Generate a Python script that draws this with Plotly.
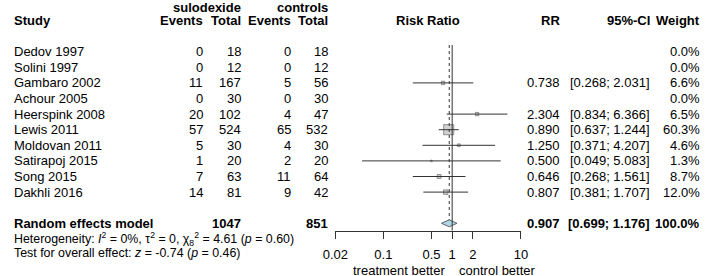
import plotly.graph_objects as go
import math

# ---------------- data ----------------
studies = ["Dedov 1997", "Solini 1997", "Gambaro 2002", "Achour 2005", "Heerspink 2008",
           "Lewis 2011", "Moldovan 2011", "Satirapoj 2015", "Song 2015", "Dakhli 2016"]
ev_sulo = [0, 0, 11, 0, 20, 57, 5, 1, 7, 14]
n_sulo = [18, 12, 167, 30, 102, 524, 30, 20, 63, 81]
ev_ctrl = [0, 0, 5, 0, 4, 65, 4, 2, 11, 9]
n_ctrl = [18, 12, 56, 30, 47, 532, 30, 20, 64, 42]
rr = [None, None, 0.738, None, 2.304, 0.890, 1.250, 0.500, 0.646, 0.807]
ci_low = [None, None, 0.268, None, 0.834, 0.637, 0.371, 0.049, 0.268, 0.381]
ci_high = [None, None, 2.031, None, 6.366, 1.244, 4.207, 5.083, 1.561, 1.707]
weight = [0.0, 0.0, 6.6, 0.0, 6.5, 60.3, 4.6, 1.3, 8.7, 12.0]

pooled_label = "Random effects model"
pooled_rr = 0.907
pooled_low = 0.699
pooled_high = 1.176
pooled_weight = 100.0

het_line = ("Heterogeneity: <i>I</i><sup>2</sup> = 0%, τ<sup>2</sup> = 0, "
            "χ<sub>8</sub><sup>2</sup> = 4.61 (<i>p</i> = 0.60)")
test_line = "Test for overall effect: <i>z</i> = -0.74 (<i>p</i> = 0.46)"

tick_vals = [0.02, 0.1, 0.5, 1, 2, 10]
tick_text = ["0.02", "0.1", "0.5", "1", "2", "10"]
x_limits = [0.02, 10]
label_left = "treatment better"
label_right = "control better"

# ---------------- layout constants ----------------
W, H = 708, 276
ROW0 = 51.7     # pixel centre of first study row
ROWH = 15.6     # row height px
AXIS_PX = 230.7
FONT = "Liberation Sans, Arial, Helvetica, sans-serif"
FS = 13
FS_HET = 12.4
TXT = "#000000"
LINE = "#333333"

n = len(studies)
pooled_row = n + 1


def ypaper(row):
    return 1 - (ROW0 + ROWH * row) / H


annotations = []


def txt(xpx, row, text, anchor="right", bold=False, size=FS):
    if bold:
        text = "<b>" + text + "</b>"
    annotations.append(dict(
        x=xpx / W, y=ypaper(row), xref="paper", yref="paper", text=text,
        showarrow=False, xanchor=anchor, yanchor="middle", borderpad=0, borderwidth=0,
        font=dict(family=FONT, size=size, color=TXT)))


# column positions (px)
X_STUDY = 1.5
X_EV_T, X_N_T, X_EV_C, X_N_C = 196, 235, 286, 324
X_RR, X_CI, X_W = 563, 656, 707
plot_left, plot_right = 331.7, 522.7

# headers
txt(X_N_T, -2.86, "sulodexide", bold=True)
txt(X_N_C, -2.86, "controls", bold=True)
txt(X_STUDY, -2, "Study", anchor="left", bold=True)
txt(X_EV_T, -2, "Events", bold=True)
txt(X_N_T, -2, "Total", bold=True)
txt(X_EV_C, -2, "Events", bold=True)
txt(X_N_C, -2, "Total", bold=True)
txt((plot_left + plot_right) / 2, -2, "Risk Ratio", anchor="center", bold=True)
txt(X_RR, -2, "RR", bold=True)
txt(X_CI, -2, "95%-CI", bold=True)
txt(X_W, -2, "Weight", bold=True)

for i in range(n):
    txt(X_STUDY, i, studies[i], anchor="left")
    txt(X_EV_T, i, str(ev_sulo[i]))
    txt(X_N_T, i, str(n_sulo[i]))
    txt(X_EV_C, i, str(ev_ctrl[i]))
    txt(X_N_C, i, str(n_ctrl[i]))
    if rr[i] is not None:
        txt(X_RR, i, f"{rr[i]:.3f}")
        txt(X_CI, i, f"[{ci_low[i]:.3f}; {ci_high[i]:.3f}]")
    txt(X_W, i, f"{weight[i]:.1f}%")

txt(X_STUDY, pooled_row, pooled_label, anchor="left", bold=True)
txt(X_N_T, pooled_row, str(sum(n_sulo)), bold=True)
txt(X_N_C, pooled_row, str(sum(n_ctrl)), bold=True)
txt(X_RR, pooled_row, f"{pooled_rr:.3f}", bold=True)
txt(X_CI, pooled_row, f"[{pooled_low:.3f}; {pooled_high:.3f}]", bold=True)
txt(X_W, pooled_row, f"{pooled_weight:.1f}%", bold=True)

txt(X_STUDY, pooled_row + 0.98, het_line, anchor="left", size=FS_HET)
txt(X_STUDY, pooled_row + 1.9, test_line, anchor="left", size=FS_HET)

txt(445, pooled_row + 3.02, label_left, anchor="right")
txt(459, pooled_row + 3.02, label_right, anchor="left")

# ---------------- forest marks ----------------
fig = go.Figure()

idx = [i for i in range(n) if rr[i] is not None]

# squares
fig.add_trace(go.Scatter(
    x=[rr[i] for i in idx], y=idx, mode="markers",
    marker=dict(symbol="square", size=[math.sqrt(weight[i]) * 1.3 for i in idx],
                color="#BEBEBE", line=dict(color="#555555", width=0.9)),
    xaxis="x", yaxis="y2", hoverinfo="skip"))

# CI lines
cx, cy = [], []
for i in idx:
    cx += [ci_low[i], ci_high[i], None]
    cy += [i, i, None]
fig.add_trace(go.Scatter(x=cx, y=cy, mode="lines", line=dict(color=LINE, width=1),
                         xaxis="x", yaxis="y2", hoverinfo="skip"))

# diamond
dh = 0.22
fig.add_trace(go.Scatter(
    x=[pooled_low, pooled_rr, pooled_high, pooled_rr, pooled_low],
    y=[pooled_row, pooled_row - dh, pooled_row, pooled_row + dh, pooled_row],
    mode="lines", fill="toself", fillcolor="#ADD8E6",
    line=dict(color="#555555", width=0.9), xaxis="x", yaxis="y2", hoverinfo="skip"))

# reference lines
axis_row = (AXIS_PX - ROW0) / ROWH
top_row = -0.43
fig.add_trace(go.Scatter(x=[1, 1], y=[top_row, axis_row], mode="lines",
                         line=dict(color=LINE, width=1), xaxis="x", yaxis="y2",
                         hoverinfo="skip"))
fig.add_trace(go.Scatter(x=[pooled_rr, pooled_rr], y=[top_row, pooled_row - dh], mode="lines",
                         line=dict(color=LINE, width=1, dash="dot"), xaxis="x", yaxis="y2",
                         hoverinfo="skip"))

fig.update_layout(
    width=W, height=H, margin=dict(l=0, r=0, t=0, b=0),
    paper_bgcolor="white", plot_bgcolor="rgba(0,0,0,0)", showlegend=False,
    annotations=annotations,
    xaxis=dict(type="log", domain=[plot_left / W, plot_right / W],
               range=[math.log10(x_limits[0]), math.log10(x_limits[1])],
               tickvals=tick_vals, ticktext=tick_text, ticks="outside", ticklen=7,
               tickcolor=LINE, showline=True, linecolor=LINE, linewidth=1,
               showgrid=False, zeroline=False, anchor="y2", ticklabelstandoff=5,
               tickfont=dict(family=FONT, size=FS, color=TXT)),
    yaxis2=dict(domain=[(H - AXIS_PX) / H, 1], range=[axis_row, -ROW0 / ROWH],
                visible=False, showgrid=False, zeroline=False),
)

fig.write_html("out.html", config={"displayModeBar": False, "staticPlot": True},
               post_script="document.body.style.margin='0px';document.body.style.overflow='hidden';")
